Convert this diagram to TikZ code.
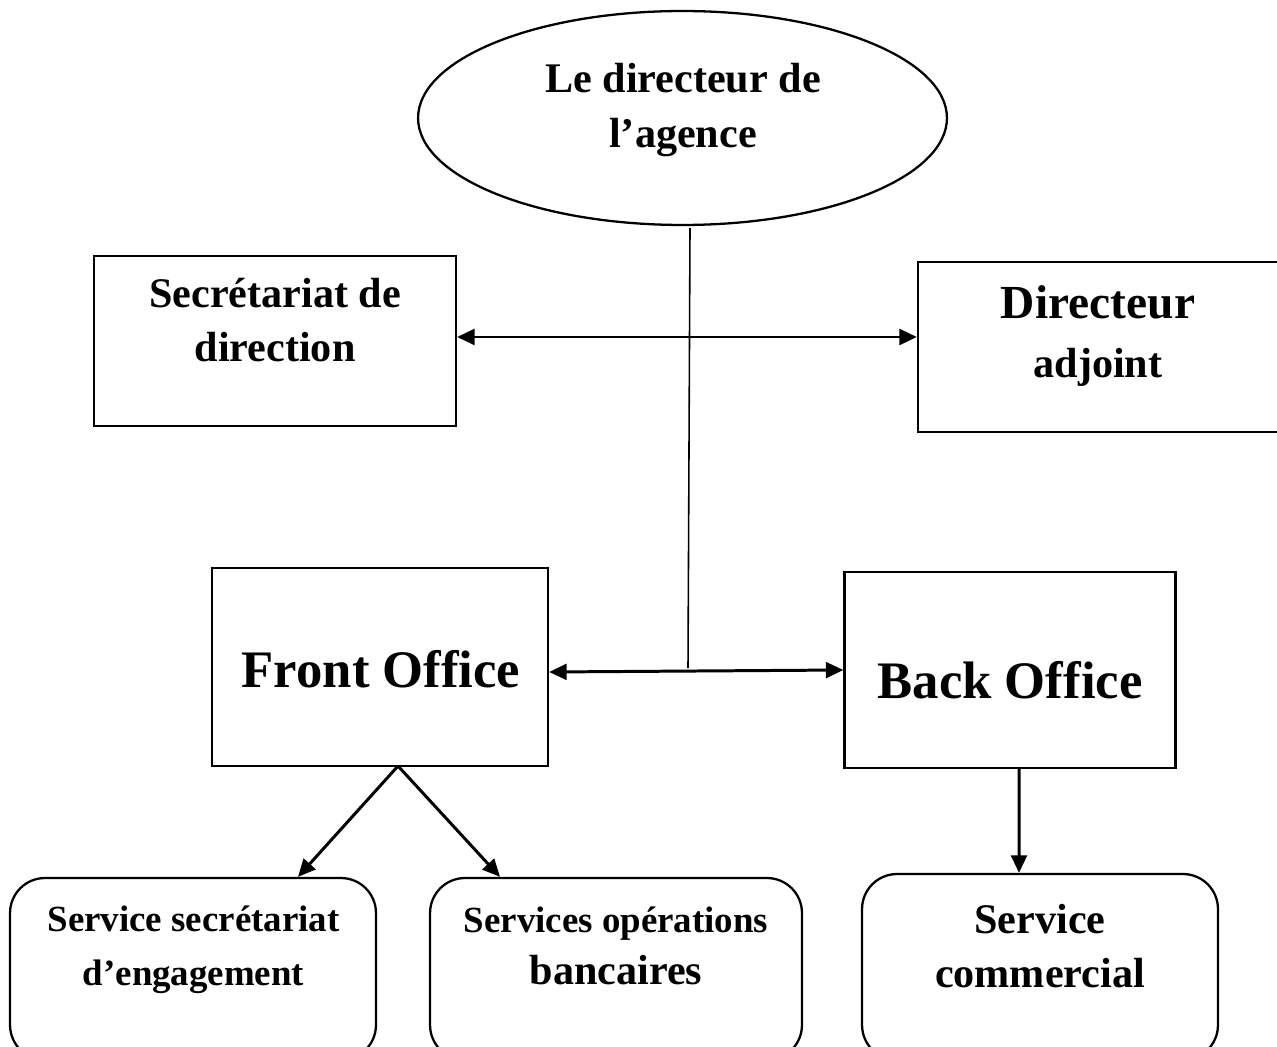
\documentclass[tikz,border=0pt]{standalone}
\usepackage{fontspec}
\setmainfont{Liberation Serif}
\usetikzlibrary{shapes.geometric,arrows.meta}

\begin{document}
\begin{tikzpicture}[x=0.02cm,y=-0.02cm,
  boite/.style={draw, line width=1.3pt, inner sep=0pt},
  ronde/.style={boite, rounded corners=0.7cm},
  texte/.style={align=center, inner sep=0pt, font=\fontsize{24}{31}\selectfont\bfseries},
  fleche/.style={line width=1.7pt, -{Triangle[length=10pt,width=9pt]}},
  dfleche/.style={line width=1.7pt, {Triangle[length=10pt,width=9pt]}-{Triangle[length=10pt,width=9pt]}}]

\clip (0,0) rectangle (1277,1047);

% direction
\node[boite, ellipse, minimum width=10.58cm, minimum height=4.28cm] (dir) at (682.5,118) {};
\node[texte] (dirtxt) at (683,110) {Le directeur de\\l'agence};

\node[boite, minimum width=7.24cm, minimum height=3.4cm] (secr) at (275,341) {};
\node[texte] (secrtxt) at (275,320) {Secrétariat de\\direction};

\node[boite, minimum width=7.28cm, minimum height=3.4cm] (adj) at (1100,347) {};
\node[texte, font=\fontsize{24}{33.5}\selectfont\bfseries] (adjtxt) at (1098,336)
  {{\fontsize{27}{33.5}\selectfont Directeur}\\adjoint};

% offices
\node[boite, minimum width=6.72cm, minimum height=3.96cm] (front) at (380,667) {};
\node[texte, font=\fontsize{30}{36}\selectfont\bfseries] (fronttxt) at (381,669) {Front Office};

\node[boite, minimum width=6.62cm, minimum height=3.92cm] (back) at (1010,670) {};
\node[texte, font=\fontsize{30}{36}\selectfont\bfseries] (backtxt) at (1010,680) {Back Office};

% services
\node[ronde, minimum width=7.32cm, minimum height=3.64cm] (serv1) at (193,969) {};
\node[texte, font=\fontsize{21}{31}\selectfont\bfseries] (serv1txt) at (193.5,950)
  {Service secrétariat\\d'engagement};

\node[ronde, minimum width=7.44cm, minimum height=3.64cm] (serv2) at (616,969) {};
\node[texte, font=\fontsize{24}{30}\selectfont\bfseries] (serv2txt) at (616,946)
  {{\fontsize{21}{30}\selectfont Services opérations}\\bancaires};

\node[ronde, minimum width=7.12cm, minimum height=3.72cm] (serv3) at (1040,967) {};
\node[texte] (serv3txt) at (1040,946) {Service\\commercial};

% liaisons
\coordinate (haut) at (690,228);
\coordinate (bas) at (688,668);
\coordinate (hbar) at (690,337);
\coordinate (fourche) at (398,766);

\draw[line width=0.9pt] (haut) -- (bas);
\draw[dfleche] (secr.east |- hbar) -- (adj.west |- hbar);
\draw[dfleche] ([yshift=-0.1cm]front.east) -- (back.west);

\draw[fleche] (fourche) -- ([xshift=2.1cm]serv1.north);
\draw[fleche] (fourche) -- ([xshift=-2.32cm]serv2.north);
\draw[fleche] ([xshift=0.18cm]back.south) -- ([xshift=-0.42cm]serv3.north);

\end{tikzpicture}
\end{document}
